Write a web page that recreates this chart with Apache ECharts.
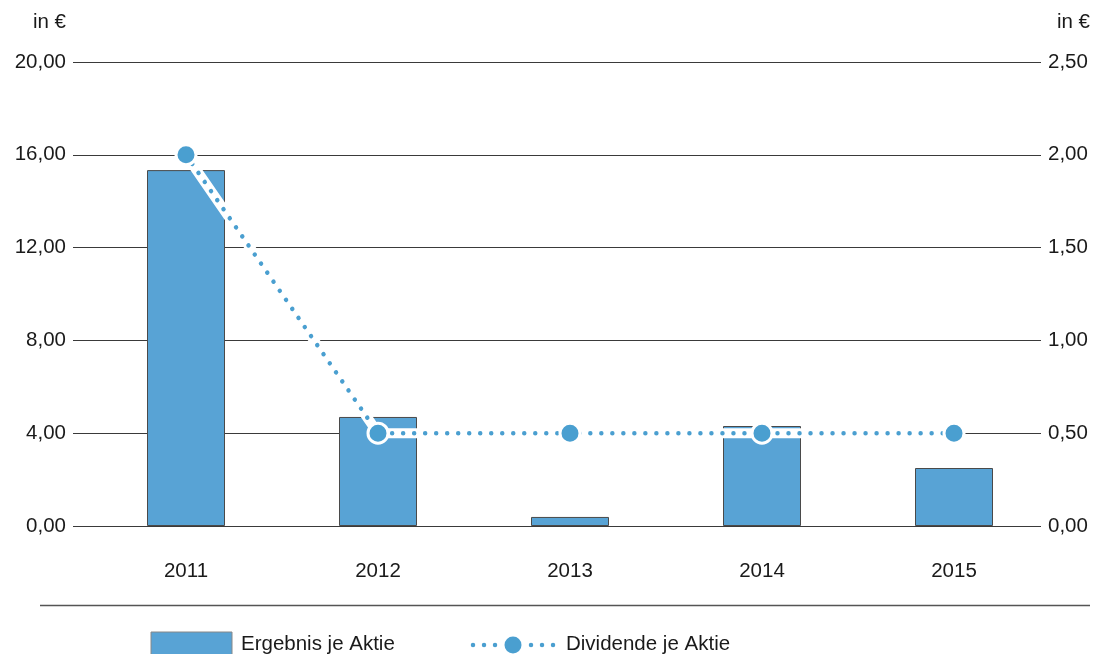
<!DOCTYPE html>
<html>
<head>
<meta charset="utf-8">
<script src="https://cdn.jsdelivr.net/npm/echarts@6/dist/echarts.min.js"></script>
<style>
  html, body { margin: 0; padding: 0; background: #fff; }
  #chart { width: 1094px; height: 654px; }
</style>
</head>
<body>
<div id="chart"></div>
<script>
// Earnings and dividend per share, 2011–2015
const years = ['2011', '2012', '2013', '2014', '2015'];
const ergebnis = [15.34, 4.70, 0.39, 4.31, 2.50];   // left axis, €
const dividende = [2.00, 0.50, 0.50, 0.50, 0.50];   // right axis, €
const leftTicks = { min: 0, max: 20, interval: 4 };
const rightTicks = { min: 0, max: 2.5, interval: 0.5 };

const BLUE = '#58a3d5';
const DOT = '#4a9fd0';
const TEXT = '#1a1a1a';
const FONT = '"Liberation Sans", Arial, sans-serif';
const FS = 20.5;

const fmt = v => v.toFixed(2).replace('.', ',');

const chart = echarts.init(document.getElementById('chart'), null, { renderer: 'canvas' });

const gridTop = 62, gridBottom = 654 - 526;

chart.setOption({
  animation: false,
  textStyle: { fontFamily: FONT },
  grid: [
    // grid with scale labels and horizontal rules
    { left: 73, right: 1094 - 1041, top: gridTop, bottom: gridBottom },
    // grid holding the bars and dividend line
    { left: 90, right: 1094 - 1050, top: gridTop, bottom: gridBottom }
  ],
  xAxis: [
    { gridIndex: 0, type: 'category', data: years, show: false },
    {
      gridIndex: 1, type: 'category', data: years,
      axisLine: { show: false }, axisTick: { show: false },
      axisLabel: { color: TEXT, fontSize: FS, margin: 35, fontFamily: FONT }
    }
  ],
  yAxis: [
    {
      gridIndex: 0, type: 'value', position: 'left',
      min: leftTicks.min, max: leftTicks.max, interval: leftTicks.interval,
      name: 'in €', nameLocation: 'end', nameGap: 29,
      nameTextStyle: { color: TEXT, fontSize: FS, align: 'right', padding: [0, 7, 0, 0], fontFamily: FONT },
      axisLine: { show: false }, axisTick: { show: false },
      axisLabel: { color: TEXT, fontSize: FS, margin: 7, formatter: v => fmt(v), fontFamily: FONT },
      splitLine: { show: true, lineStyle: { color: '#3a3a3a', width: 1 } }
    },
    {
      gridIndex: 0, type: 'value', position: 'right',
      min: rightTicks.min, max: rightTicks.max, interval: rightTicks.interval,
      name: 'in €', nameLocation: 'end', nameGap: 29,
      nameTextStyle: { color: TEXT, fontSize: FS, align: 'right', padding: [0, -49, 0, 0], fontFamily: FONT },
      axisLine: { show: false }, axisTick: { show: false },
      axisLabel: { color: TEXT, fontSize: FS, margin: 7, formatter: v => fmt(v), fontFamily: FONT },
      splitLine: { show: false }
    },
    {
      gridIndex: 1, type: 'value', show: false,
      min: leftTicks.min, max: leftTicks.max, interval: leftTicks.interval,
      splitLine: { show: false }
    },
    {
      gridIndex: 1, type: 'value', show: false,
      min: rightTicks.min, max: rightTicks.max, interval: rightTicks.interval,
      splitLine: { show: false }
    }
  ],
  series: [
    {
      name: 'Ergebnis je Aktie', type: 'bar',
      xAxisIndex: 1, yAxisIndex: 2,
      data: ergebnis, barWidth: 78,
      itemStyle: { color: BLUE, borderColor: '#4a4a4a', borderWidth: 1 },
      z: 2
    },
    {
      // white band under the dotted line
      name: 'band', type: 'line',
      xAxisIndex: 1, yAxisIndex: 3,
      data: dividende, symbol: 'none',
      lineStyle: { color: '#fff', width: 10 },
      z: 3, silent: true
    },
    {
      name: 'Dividende je Aktie', type: 'line',
      xAxisIndex: 1, yAxisIndex: 3,
      data: dividende,
      symbol: 'circle', symbolSize: 20,
      lineStyle: { color: DOT, width: 4.5, type: [0.01, 11], cap: 'round' },
      itemStyle: { color: DOT, borderColor: '#fff', borderWidth: 3 },
      z: 4
    }
  ],
  graphic: [
    // separator rule above the key
    { type: 'line', shape: { x1: 40, y1: 605.5, x2: 1090, y2: 605.5 }, style: { stroke: '#555', lineWidth: 1.5 } },
    // key: bar swatch
    { type: 'rect', shape: { x: 151, y: 632, width: 81, height: 26 }, style: { fill: BLUE, stroke: '#888', lineWidth: 1 } },
    { type: 'text', x: 241, y: 644, style: { text: 'Ergebnis je Aktie', fill: TEXT, font: FS + 'px ' + FONT, verticalAlign: 'middle' } },
    // key: dotted line with marker
    { type: 'line', shape: { x1: 473, y1: 645, x2: 496, y2: 645 }, style: { stroke: DOT, lineWidth: 4.5, lineDash: [0.01, 11], lineCap: 'round' } },
    { type: 'line', shape: { x1: 531, y1: 645, x2: 554, y2: 645 }, style: { stroke: DOT, lineWidth: 4.5, lineDash: [0.01, 11], lineCap: 'round' } },
    { type: 'circle', shape: { cx: 513, cy: 645, r: 8.5 }, style: { fill: DOT } },
    { type: 'text', x: 566, y: 644, style: { text: 'Dividende je Aktie', fill: TEXT, font: FS + 'px ' + FONT, verticalAlign: 'middle' } }
  ]
});
</script>
</body>
</html>
